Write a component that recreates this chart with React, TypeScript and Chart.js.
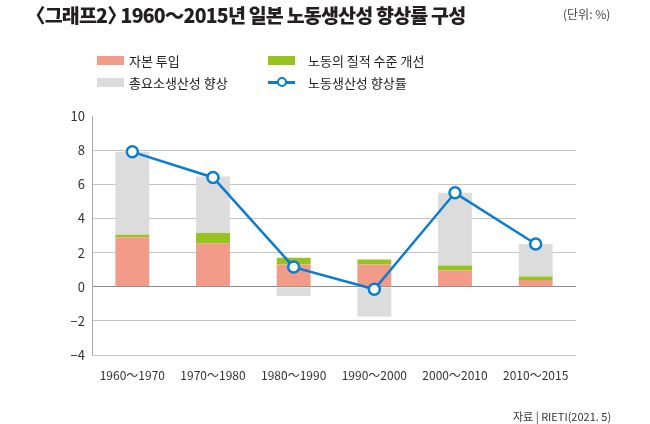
import { useEffect, useRef } from 'react';
import { Chart, registerables } from 'chart.js';

Chart.register(...registerables);

const FONT = "'Noto Sans CJK KR', 'Noto Sans', sans-serif";

const periods = ['1960〜1970', '1970〜1980', '1980〜1990', '1990〜2000', '2000〜2010', '2010〜2015'];
const capitalInput = [2.9, 2.55, 1.3, 1.3, 0.95, 0.4];
const laborQuality = [0.15, 0.6, 0.4, 0.3, 0.3, 0.2];
const tfpGrowth = [4.85, 3.3, -0.55, -1.75, 4.25, 1.9];
const laborProductivity = [7.9, 6.4, 1.15, -0.15, 5.5, 2.5];

const COLORS = {
  capital: '#f29b89',
  labor: '#98c31e',
  tfp: '#dcdcdc',
  line: '#0a7dd0',
};

function ProductivityChart() {
  const canvasRef = useRef<HTMLCanvasElement>(null);
  const chartRef = useRef<Chart | null>(null);

  useEffect(() => {
    if (!canvasRef.current) return;
    chartRef.current?.destroy();
    chartRef.current = new Chart(canvasRef.current, {
      type: 'bar',
      data: {
        labels: periods,
        datasets: [
          { label: '자본 투입', data: capitalInput, backgroundColor: COLORS.capital, stack: 'bars', order: 1 },
          { label: '노동의 질적 수준 개선', data: laborQuality, backgroundColor: COLORS.labor, stack: 'bars', order: 1 },
          { label: '총요소생산성 향상', data: tfpGrowth, backgroundColor: COLORS.tfp, stack: 'bars', order: 1 },
          {
            type: 'line',
            label: '노동생산성 향상률',
            data: laborProductivity,
            stack: 'line',
            order: 0,
            borderColor: COLORS.line,
            borderWidth: 2.5,
            pointRadius: 5.5,
            pointBorderWidth: 2.5,
            pointBackgroundColor: '#fff',
            pointBorderColor: COLORS.line,
            tension: 0,
          },
        ],
      },
      options: {
        animation: false,
        responsive: false,
        maintainAspectRatio: false,
        layout: { padding: { left: 0, top: 116, right: 74, bottom: 29 } },
        datasets: { bar: { categoryPercentage: 1, barPercentage: 0.42 } },
        plugins: { legend: { display: false }, tooltip: { enabled: false } },
        scales: {
          x: {
            stacked: true,
            grid: { display: false, drawTicks: false },
            border: { display: false },
            ticks: { color: '#333', font: { family: FONT, size: 12 }, padding: 13 },
            afterFit: (s: any) => { s.height = 40; },
          },
          y: {
            stacked: true,
            min: -4,
            max: 10,
            ticks: {
              stepSize: 2,
              color: '#333',
              padding: 7,
              font: { family: FONT, size: 13 },
              callback: (v: any) => String(v).replace('-', '−'),
            },
            grid: {
              drawTicks: false,
              lineWidth: 1,
              color: (ctx: any) => {
                const v = ctx.tick?.value;
                if (v === 10) return 'rgba(0,0,0,0)';
                if (v === 0) return '#8c8c8c';
                return '#c4c4c4';
              },
            },
            border: { display: true, color: '#a8a8a8' },
            afterFit: (s: any) => { s.width = 92; },
          },
        },
      },
    } as never);
    return () => { chartRef.current?.destroy(); };
  }, []);

  return <canvas ref={canvasRef} width={650} height={424} style={{ position: 'absolute', left: 0, top: 0, width: 650, height: 424 }} />;
}

function LegendItem({ x, y, label, kind, color, gap }: { x: number; y: number; label: string; kind: 'box' | 'line'; color: string; gap: number }) {
  return (
    <div style={{ position: 'absolute', left: x, top: y - 10, height: 20, display: 'flex', alignItems: 'center', whiteSpace: 'nowrap' }}>
      {kind === 'box' ? (
        <div style={{ width: 27, height: 9, background: color }} />
      ) : (
        <div style={{ width: 27, height: 20, position: 'relative' }}>
          <div style={{ position: 'absolute', left: 0, right: 0, top: 9, height: 2.5, background: color }} />
          <div style={{ position: 'absolute', left: 9, top: 5, width: 6, height: 6, borderRadius: '50%', border: `2.5px solid ${color}`, background: '#fff' }} />
        </div>
      )}
      <span style={{ marginLeft: gap, fontSize: 13, color: '#222' }}>{label}</span>
    </div>
  );
}

export default function App() {
  return (
    <div style={{ position: 'absolute', left: 0, top: 0, width: 650, height: 424, background: '#fff', fontFamily: FONT, overflow: 'hidden' }}>
      <ProductivityChart />
      <div style={{ position: 'absolute', left: 35, top: 0, fontSize: 19.5, fontWeight: 800, color: '#231f20', letterSpacing: -0.8, whiteSpace: 'nowrap' }}>
        <span style={{ display: 'inline-block', marginLeft: -9 }}>〈</span>그래프2<span style={{ display: 'inline-block', marginRight: -9 }}>〉</span> 1960〜2015년 일본 노동생산성 향상률 구성
      </div>
      <div style={{ position: 'absolute', left: 563, top: 5, fontSize: 12, color: '#444', whiteSpace: 'nowrap' }}>(단위: %)</div>
      <LegendItem x={97} y={60} label="자본 투입" kind="box" color={COLORS.capital} gap={5} />
      <LegendItem x={97} y={82} label="총요소생산성 향상" kind="box" color={COLORS.tfp} gap={5} />
      <LegendItem x={268} y={60} label="노동의 질적 수준 개선" kind="box" color={COLORS.labor} gap={13} />
      <LegendItem x={268} y={82} label="노동생산성 향상률" kind="line" color={COLORS.line} gap={13} />
      <div style={{ position: 'absolute', left: 513, top: 408, fontSize: 11, color: '#333', whiteSpace: 'nowrap' }}>자료 | RIETI(2021. 5)</div>
    </div>
  );
}
